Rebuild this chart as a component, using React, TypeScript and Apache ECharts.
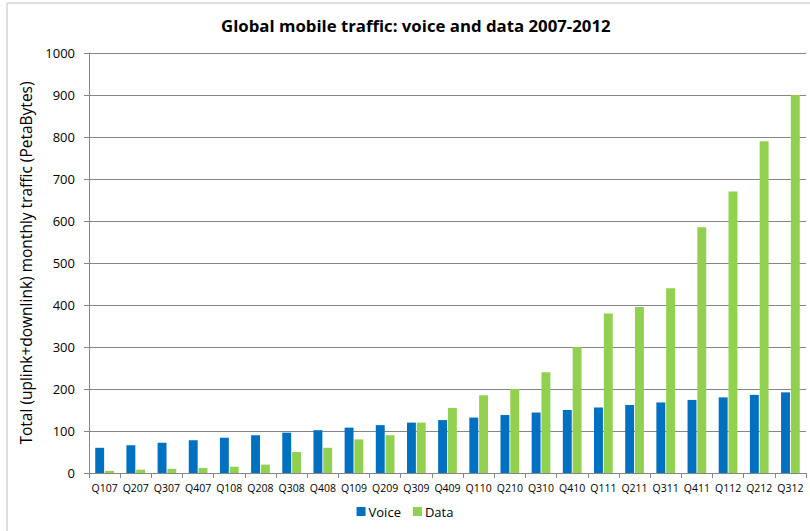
import React, { useEffect, useRef } from "react";
import * as echarts from "echarts";

const categories = [
  "Q107", "Q207", "Q307", "Q407",
  "Q108", "Q208", "Q308", "Q408",
  "Q109", "Q209", "Q309", "Q409",
  "Q110", "Q210", "Q310", "Q410",
  "Q111", "Q211", "Q311", "Q411",
  "Q112", "Q212", "Q312",
];
const voiceValues = [
  60, 66, 72, 78, 84, 90, 96, 102, 108, 114, 120, 126,
  132, 138, 144, 150, 156, 162, 168, 174, 180, 186, 192,
];
const dataValues = [
  5, 8, 10, 12, 15, 20, 50, 60, 80, 90, 120, 155,
  185, 200, 240, 300, 380, 395, 440, 585, 670, 790, 900,
];

const FONT = "'Open Sans', 'Noto Sans', sans-serif";

export default function App() {
  const ref = useRef<HTMLDivElement>(null);
  useEffect(() => {
    if (!ref.current) return;
    const chart = echarts.init(ref.current, null, { renderer: "svg" });
    chart.setOption({
      animation: false,
      backgroundColor: "#ffffff",
      textStyle: { fontFamily: FONT },
      title: {
        text: "Global mobile traffic: voice and data 2007-2012",
        left: 216,
        top: 12,
        textStyle: { fontSize: 16.8, fontWeight: "bold", color: "#000", fontFamily: FONT },
      },
      graphic: [
        {
          type: "rect",
          shape: { x: 7, y: 3, width: 900, height: 600 },
          style: { fill: "none", stroke: "#bfbfbf", lineWidth: 1 },
          silent: true,
        },
      ],
      legend: {
        bottom: 8,
        left: "center",
        itemWidth: 9,
        itemHeight: 9,
        itemGap: 12,
        icon: "rect",
        textStyle: { fontSize: 13, color: "#000", fontFamily: FONT, padding: [0, 0, 0, -2] },
        data: ["Voice", "Data"],
      },
      grid: { left: 89, right: 4, top: 53, bottom: 58 },
      xAxis: {
        type: "category",
        data: categories,
        axisLine: { lineStyle: { color: "#868686" } },
        axisTick: { show: true, length: 5, lineStyle: { color: "#868686" } },
        axisLabel: { fontSize: 10.5, color: "#000", margin: 9, interval: 0, fontFamily: FONT },
      },
      yAxis: {
        type: "value",
        min: 0,
        max: 1000,
        interval: 100,
        name: "Total (uplink+downlink) monthly traffic (PetaBytes)",
        nameLocation: "middle",
        nameGap: 49,
        nameTextStyle: { fontSize: 15.5, color: "#000", fontFamily: FONT },
        axisLine: { show: true, lineStyle: { color: "#868686" } },
        axisTick: { show: true, length: 5, lineStyle: { color: "#868686" } },
        axisLabel: {
          fontSize: 13,
          color: "#000",
          margin: 14,
          fontFamily: FONT,
          formatter: (v: number) => String(v),
        },
        splitLine: { lineStyle: { color: "#868686", width: 1 } },
      },
      series: [
        {
          name: "Voice",
          type: "bar",
          data: voiceValues,
          barGap: "10%",
          barCategoryGap: "40%",
          itemStyle: { color: "#0070C0" },
        },
        {
          name: "Data",
          type: "bar",
          data: dataValues,
          barGap: "10%",
          barCategoryGap: "40%",
          itemStyle: { color: "#92D050" },
        },
      ],
    });
    return () => chart.dispose();
  }, []);
  return (
    <div
      ref={ref}
      style={{ position: "fixed", left: 0, top: 0, width: 810, height: 531 }}
    />
  );
}
